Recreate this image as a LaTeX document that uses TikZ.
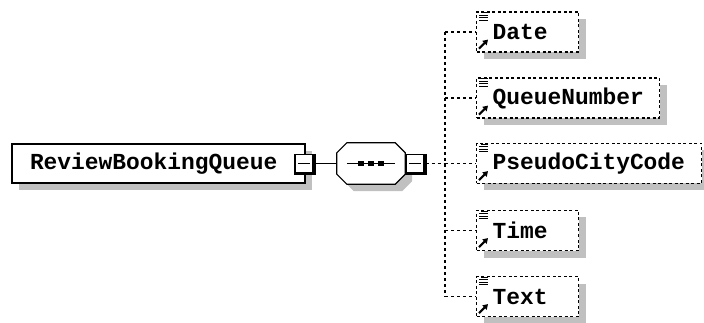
\documentclass[tikz,border=0pt]{standalone}
\usepackage{fontspec}
\newfontfamily\xsdfont{Liberation Mono}
\usetikzlibrary{shadows,arrows.meta}
\definecolor{shadowgray}{HTML}{C0C0C0}
\tikzset{
  shd/.style={drop shadow={shadow xshift=7pt, shadow yshift=-7pt, fill=shadowgray, opacity=1}},
  lbl/.style={font=\xsdfont\bfseries\fontsize{22.9}{24}\selectfont},
  mainbox/.style={draw, line width=1.2pt, fill=white, shd, minimum height=39pt, inner xsep=18pt, text width=257pt, align=left, lbl},
  elem/.style={draw, dash pattern=on 3pt off 2.5pt, line width=1.2pt, fill=white, shd, minimum height=40pt, inner xsep=16pt, align=left, anchor=west, lbl},
  minusbox/.style={draw, line width=1.2pt, fill=white, minimum size=18pt, inner sep=0pt},
  seqbox/.style={minimum width=68pt, minimum height=41pt, inner sep=0pt},
  conn/.style={line width=1.2pt},
  dconn/.style={line width=1.2pt, dash pattern=on 3pt off 3pt},
}
\newcommand{\elemicons}[1]{%
  \foreach \k/\s in {0/5,1/3,2/3,3/3}{
    \draw[line width=1pt] ([shift={(\s pt,{-1.5pt-2.5pt*\k})}]#1.north west) -- ([shift={(12pt,{-1.5pt-2.5pt*\k})}]#1.north west);
  }
  \draw[line width=2pt, -{Triangle[length=5pt,width=6pt]}] ([shift={(3pt,4pt)}]#1.south west) -- ([shift={(12pt,13pt)}]#1.south west);
}
\begin{document}
\begin{tikzpicture}[x=1pt,y=-1pt]
\useasboundingbox (0,0) rectangle (704,323);
% main element
\node[mainbox] (main) at (158.5,163.5) {ReviewBookingQueue};
\node[minusbox] (m1) at (304,163.5) {};
\draw[line width=2.4pt] ([xshift=1pt]m1.north east) -- ([xshift=1pt,yshift=-1pt]m1.south east) -- ([yshift=-1pt]m1.south west);
\draw[conn] ([xshift=4pt]m1.west) -- ([xshift=-4pt]m1.east);
% sequence compositor
\node[seqbox] (seq) at (371,163.5) {};
\draw[line width=1.2pt, fill=white, shd]
  ([xshift=10pt]seq.north west) -- ([xshift=-10pt]seq.north east) -- ([yshift=-10pt]seq.north east)
  -- ([yshift=10pt]seq.south east) -- ([xshift=-10pt]seq.south east) -- ([xshift=10pt]seq.south west)
  -- ([yshift=10pt]seq.south west) -- ([yshift=-10pt]seq.north west) -- cycle;
\draw[conn] ([xshift=10pt]seq.west) -- ([xshift=-10pt]seq.east);
\foreach \dx in {-10,0,10}{
  \fill ([xshift=\dx pt]seq.center) ++(-2.8pt,-2.8pt) rectangle ++(5.6pt,5.6pt);
}
\node[minusbox] (m2) at (415,163.5) {};
\draw[line width=2.4pt] ([xshift=1pt]m2.north east) -- ([xshift=1pt,yshift=-1pt]m2.south east) -- ([yshift=-1pt]m2.south west);
\draw[conn] ([xshift=4pt]m2.west) -- ([xshift=-4pt]m2.east);
\draw[conn] ([xshift=1pt]m1.east) -- (seq.west);
% child elements
\node[elem, text width=70pt] (date) at (476,32) {Date};
\node[elem, text width=151pt] (qnum) at (476,98) {QueueNumber};
\node[elem, text width=193pt] (pcc) at (476,163.5) {PseudoCityCode};
\node[elem, text width=70pt] (time) at (476,230.5) {Time};
\node[elem, text width=70pt] (text) at (476,296.5) {Text};
\foreach \e in {date,qnum,pcc,time,text}{ \elemicons{\e} }
% connectors
\coordinate (bus) at (445,163.5);
\draw[dconn] ([xshift=1pt]m2.east) -- (bus);
\draw[dconn] (date.west -| bus) -- (text.west -| bus);
\foreach \e in {date,qnum,pcc,time,text}{
  \draw[dconn] (\e.west -| bus) -- (\e.west);
}
\end{tikzpicture}
\end{document}
